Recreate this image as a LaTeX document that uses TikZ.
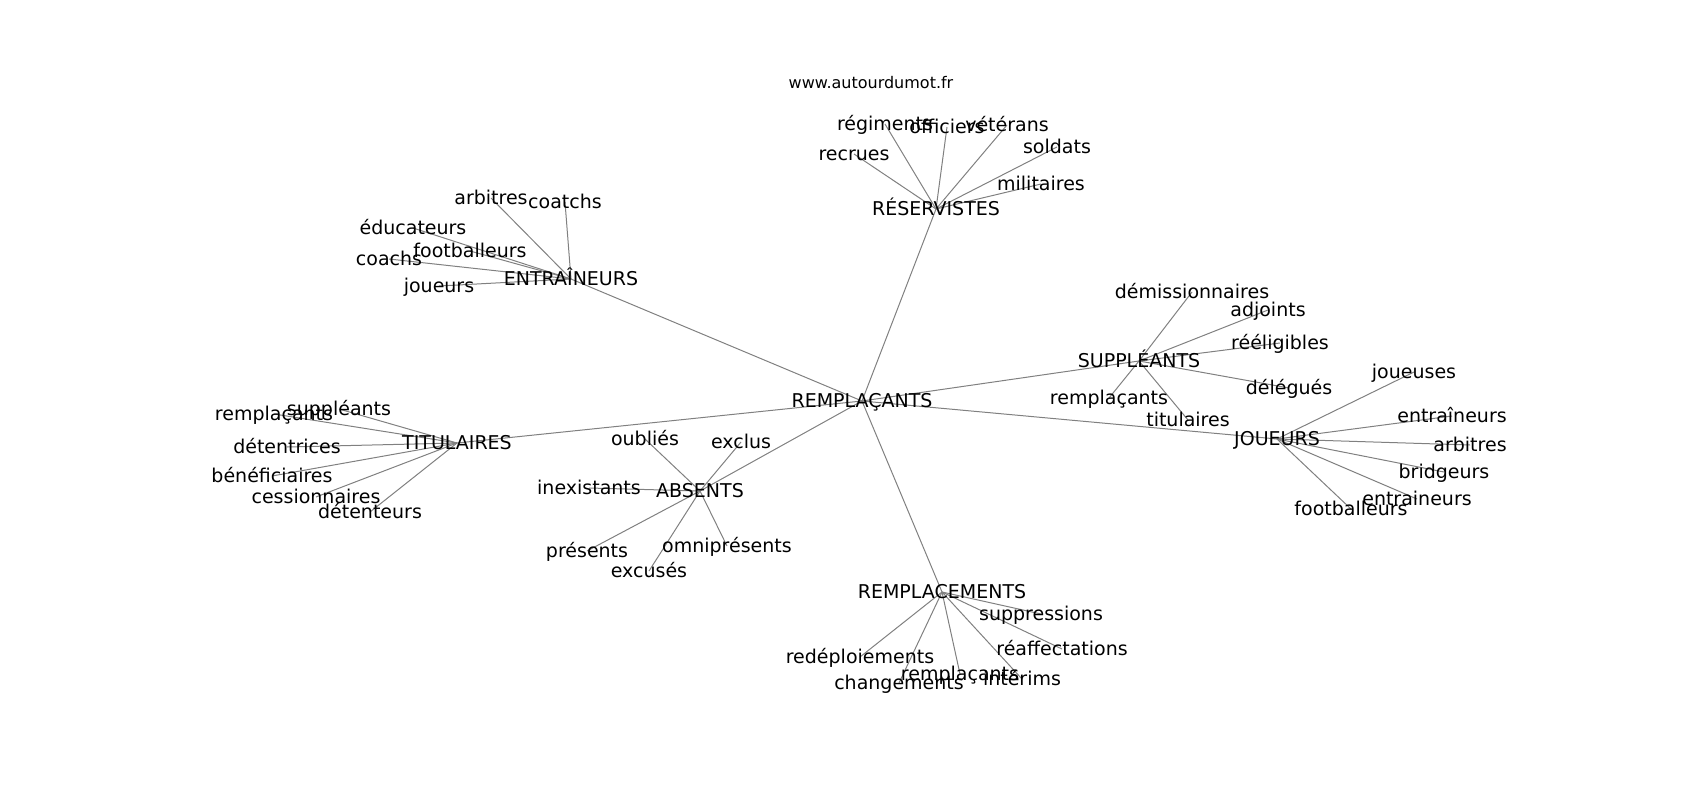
\documentclass[tikz,border=0pt]{standalone}
\usepackage{fontspec}
\setmainfont{DejaVu Sans}
\usetikzlibrary{backgrounds}

\tikzset{
 mot/.style={inner sep=0, font=\fontsize{19}{23}\selectfont, text height=17pt, text depth=4pt},
 lien/.style={draw=gray, line width=1pt},
}

\begin{document}
\begin{tikzpicture}[x=1pt,y=-1pt]
\useasboundingbox (0,0) rectangle (1700,800);
\node[inner sep=0, font=\fontsize{16}{19}\selectfont] (site) at (871,83) {www.autourdumot.fr};
% centre
\node[mot] (c) at (862,401) {REMPLAÇANTS};
% reservistes
\node[mot] (res) at (936,209) {RÉSERVISTES};
\node[mot] (res1) at (885,124) {régiments};
\node[mot] (res2) at (947,127) {officiers};
\node[mot] (res3) at (1007,125) {vétérans};
\node[mot] (res4) at (1057,147) {soldats};
\node[mot] (res5) at (854,154) {recrues};
\node[mot] (res6) at (1041,184) {militaires};
% entraineurs
\node[mot] (ent) at (571,279) {ENTRAÎNEURS};
\node[mot] (ent1) at (491,198) {arbitres};
\node[mot] (ent2) at (565,202) {coatchs};
\node[mot] (ent3) at (413,228) {éducateurs};
\node[mot] (ent4) at (470,251) {footballeurs};
\node[mot] (ent5) at (389,259) {coachs};
\node[mot] (ent6) at (439,286) {joueurs};
% suppleants
\node[mot] (sup) at (1139,361) {SUPPLÉANTS};
\node[mot] (sup1) at (1192,292) {démissionnaires};
\node[mot] (sup2) at (1268,310) {adjoints};
\node[mot] (sup3) at (1280,343) {rééligibles};
\node[mot] (sup4) at (1289,388) {délégués};
\node[mot] (sup5) at (1109,398) {remplaçants};
\node[mot] (sup6) at (1188,420) {titulaires};
% joueurs
\node[mot] (jou) at (1277,439) {JOUEURS};
\node[mot] (jou1) at (1414,372) {joueuses};
\node[mot] (jou2) at (1452,416) {entraîneurs};
\node[mot] (jou3) at (1470,445) {arbitres};
\node[mot] (jou4) at (1444,472) {bridgeurs};
\node[mot] (jou5) at (1417,499) {entraineurs};
\node[mot] (jou6) at (1351,509) {footballeurs};
% titulaires
\node[mot] (tit) at (457,443) {TITULAIRES};
\node[mot] (tit1) at (274,414) {remplaçants};
\node[mot] (tit2) at (339,409) {suppléants};
\node[mot] (tit3) at (287,447) {détentrices};
\node[mot] (tit4) at (272,476) {bénéficiaires};
\node[mot] (tit5) at (316,497) {cessionnaires};
\node[mot] (tit6) at (370,512) {détenteurs};
% absents
\node[mot] (abs) at (700,491) {ABSENTS};
\node[mot] (abs1) at (645,439) {oubliés};
\node[mot] (abs2) at (741,442) {exclus};
\node[mot] (abs3) at (589,488) {inexistants};
\node[mot] (abs4) at (587,551) {présents};
\node[mot] (abs5) at (727,546) {omniprésents};
\node[mot] (abs6) at (649,571) {excusés};
% remplacements
\node[mot] (rpl) at (942,592) {REMPLACEMENTS};
\node[mot] (rpl1) at (1041,614) {suppressions};
\node[mot] (rpl2) at (1062,649) {réaffectations};
\node[mot] (rpl3) at (860,657) {redéploiements};
\node[mot] (rpl4) at (960,674) {remplaçants};
\node[mot] (rpl5) at (1022,679) {intérims};
\node[mot] (rpl6) at (899,683) {changements};
% liens
\begin{scope}[on background layer]
\foreach \h in {res,ent,sup,jou,tit,abs,rpl} {
 \draw[lien] (c.center) -- (\h.center);
 \foreach \i in {1,...,6}
  \draw[lien] (\h.center) -- (\h\i.center);
}
\end{scope}
\end{tikzpicture}
\end{document}
